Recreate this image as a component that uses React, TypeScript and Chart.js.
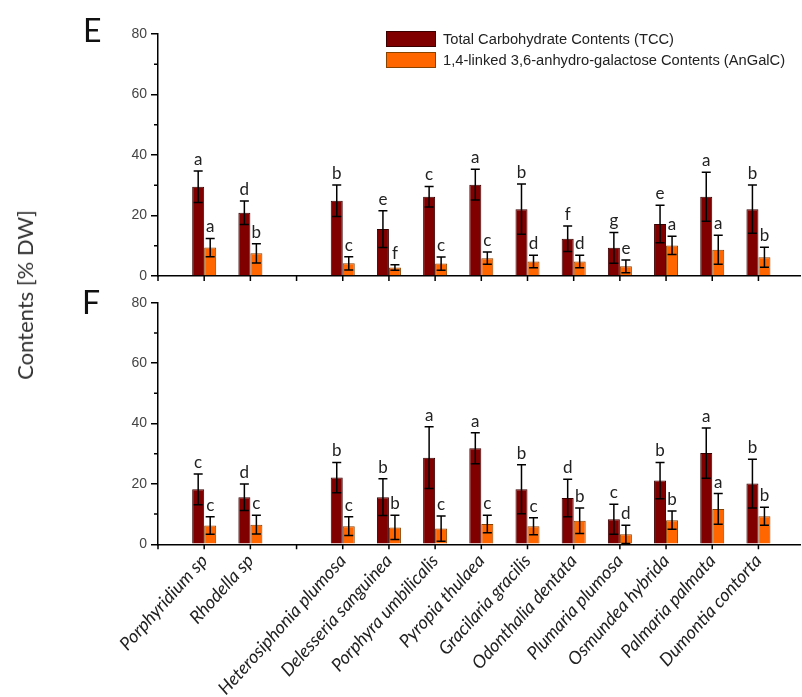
import React, { useEffect, useRef } from 'react';
import { Chart, registerables } from 'chart.js';

Chart.register(...registerables);

// ---------- data ----------
const categories = [
  'Porphyridium sp',
  'Rhodella sp',
  '',
  'Heterosiphonia plumosa',
  'Delesseria sanguinea',
  'Porphyra umbilicalis',
  'Pyropia thulaea',
  'Gracilaria gracilis',
  'Odonthalia dentata',
  'Plumaria plumosa',
  'Osmundea hybrida',
  'Palmaria palmata',
  'Dumontia contorta',
];

const seriesNames = [
  'Total Carbohydrate Contents (TCC)',
  '1,4-linked 3,6-anhydro-galactose Contents (AnGalC)',
];

// Panel E
const tccE = [29.5, 20.9, null, 24.9, 15.5, 26.2, 30.2, 22.1, 12.3, 9.3, 17.2, 26.2, 22.1];
const tccSdE = [5.2, 3.9, null, 5.2, 6.1, 3.4, 5.1, 8.3, 4.2, 5.1, 6.2, 8.1, 8.0];
const tccLettersE = ['a', 'd', '', 'b', 'e', 'c', 'a', 'b', 'f', 'g', 'e', 'a', 'b'];
const angE = [9.4, 7.5, null, 4.2, 2.8, 4.1, 5.9, 4.8, 4.8, 3.2, 10.1, 8.7, 6.2];
const angSdE = [3.0, 3.2, null, 2.2, 0.9, 2.2, 2.0, 2.1, 2.1, 2.1, 3.0, 4.8, 3.3];
const angLettersE = ['a', 'b', '', 'c', 'f', 'c', 'c', 'd', 'd', 'e', 'a', 'a', 'b'];

// Panel F
const tccF = [18.2, 15.6, null, 22.1, 15.6, 28.7, 31.8, 18.2, 15.3, 8.3, 21.1, 30.2, 20.1];
const tccSdF = [5.1, 4.4, null, 5.0, 6.1, 10.2, 5.1, 8.1, 6.2, 5.0, 6.0, 8.3, 8.1];
const tccLettersF = ['c', 'd', '', 'b', 'b', 'a', 'a', 'b', 'd', 'c', 'b', 'a', 'b'];
const angF = [6.2, 6.5, null, 6.0, 5.6, 5.2, 6.7, 6.0, 7.8, 3.3, 8.0, 11.7, 9.3];
const angSdF = [2.9, 3.1, null, 3.1, 4.0, 4.2, 2.9, 2.8, 4.2, 3.0, 3.0, 5.1, 3.0];
const angLettersF = ['c', 'c', '', 'c', 'b', 'c', 'c', 'c', 'b', 'd', 'b', 'a', 'b'];

const yMajorTicks = [0, 20, 40, 60, 80];
const yMinorTicks = [10, 30, 50, 70];

// ---------- styles ----------
const RED = '#800000';
const RED_EDGE = '#3a0000';
const ORANGE = '#ff6600';
const ORANGE_EDGE = '#8a4200';

type Panel = {
  letter: string;
  letterX: number;
  letterY: number;
  tcc: (number | null)[];
  tccSd: (number | null)[];
  tccLetters: string[];
  ang: (number | null)[];
  angSd: (number | null)[];
  angLetters: string[];
  padTop: number;
  xHeight: number;
  showLabels: boolean;
  legend: boolean;
};

function makeChart(canvas: HTMLCanvasElement, p: Panel) {
  const toPoints = (vals: (number | null)[]) => vals.map((v, i) => ({ x: i, y: v }));

  const annotate = {
    id: 'annotate',
    afterDatasetsDraw(chart: any) {
      const ctx = chart.ctx;
      const ys = chart.scales.y;
      chart.data.datasets.forEach((ds: any, di: number) => {
        const meta = chart.getDatasetMeta(di);
        meta.data.forEach((el: any, i: number) => {
          const v = ds.data[i].y;
          const sd = ds.sd[i];
          if (v == null || sd == null) return;
          const x = el.x;
          const yt = ys.getPixelForValue(v + sd);
          const yb = ys.getPixelForValue(v - sd);
          ctx.save();
          ctx.strokeStyle = '#000';
          ctx.lineWidth = 1.5;
          ctx.beginPath();
          ctx.moveTo(x, yt);
          ctx.lineTo(x, yb);
          ctx.moveTo(x - 4.5, yt);
          ctx.lineTo(x + 4.5, yt);
          ctx.moveTo(x - 4.5, yb);
          ctx.lineTo(x + 4.5, yb);
          ctx.stroke();
          ctx.fillStyle = '#222';
          ctx.font = '17px Lato';
          ctx.textAlign = 'center';
          ctx.textBaseline = 'alphabetic';
          ctx.fillText(ds.letters[i], x, yt - 6);
          ctx.restore();
        });
      });
    },
    afterDraw(chart: any) {
      const ctx = chart.ctx;
      const ys = chart.scales.y;
      const xs = chart.scales.x;
      const left = chart.chartArea.left;
      const bottom = chart.chartArea.bottom;
      ctx.save();
      ctx.strokeStyle = '#000';
      ctx.lineWidth = 1.5;
      ctx.beginPath();
      // minor y ticks
      yMinorTicks.forEach((v) => {
        const y = ys.getPixelForValue(v);
        ctx.moveTo(left - 4, y);
        ctx.lineTo(left, y);
      });
      // x tick marks
      xs.ticks.forEach((t: any) => {
        const x = xs.getPixelForValue(t.value);
        ctx.moveTo(x, bottom);
        ctx.lineTo(x, bottom + 5);
      });
      ctx.stroke();
      // panel letter
      ctx.fillStyle = '#111';
      ctx.font = '32px Lato';
      ctx.textAlign = 'left';
      ctx.textBaseline = 'alphabetic';
      ctx.fillText(p.letter, p.letterX, p.letterY);
      // legend
      if (p.legend) {
        const items = [
          { fill: RED, edge: RED_EDGE, text: seriesNames[0] },
          { fill: ORANGE, edge: ORANGE_EDGE, text: seriesNames[1] },
        ];
        items.forEach((it, k) => {
          const bx = 386;
          const by = 31 + k * 21;
          ctx.fillStyle = it.fill;
          ctx.fillRect(bx, by, 50, 16);
          ctx.strokeStyle = it.edge;
          ctx.lineWidth = 1;
          ctx.strokeRect(bx + 0.5, by + 0.5, 49, 15);
          ctx.fillStyle = '#222';
          ctx.font = '14.7px "Liberation Sans", Arial';
          ctx.textBaseline = 'middle';
          ctx.fillText(it.text, 443, by + 8.5);
        });
      }
      ctx.restore();
    },
  };

  return new Chart(canvas, {
    type: 'bar',
    data: {
      datasets: [
        {
          label: seriesNames[0],
          data: toPoints(p.tcc) as any,
          backgroundColor: RED,
          borderColor: RED_EDGE,
          borderWidth: 1,
          categoryPercentage: 0.52,
          barPercentage: 1,
          sd: p.tccSd,
          letters: p.tccLetters,
        } as any,
        {
          label: seriesNames[1],
          data: toPoints(p.ang) as any,
          backgroundColor: ORANGE,
          borderColor: ORANGE_EDGE,
          borderWidth: 1,
          categoryPercentage: 0.52,
          barPercentage: 1,
          sd: p.angSd,
          letters: p.angLetters,
        } as any,
      ],
    },
    options: {
      animation: false,
      responsive: false,
      maintainAspectRatio: false,
      layout: { padding: { left: 0, right: 2, top: p.padTop, bottom: 0 } },
      plugins: {
        legend: { display: false },
        tooltip: { enabled: false },
      },
      scales: {
        x: {
          type: 'linear',
          min: -1,
          max: 12.9,
          offset: false,
          afterFit(scale: any) {
            scale.height = p.xHeight;
          },
          border: { display: true, color: '#000', width: 1.5 },
          grid: {
            offset: false,
            drawOnChartArea: false,
            drawTicks: true,
            tickLength: 5,
            color: 'rgba(0,0,0,0)',
            tickColor: 'rgba(0,0,0,0)',
          },
          ticks: {
            stepSize: 1,
            includeBounds: false,
            autoSkip: false,
            maxRotation: 48,
            minRotation: 48,
            padding: 1,
            color: '#222',
            font: { family: 'Lato', size: 18, style: 'italic' },
            callback: (v: any) => (p.showLabels ? categories[v] ?? '' : ''),
          },
        },
        y: {
          min: 0,
          max: 80,
          afterFit(scale: any) {
            scale.width = 158;
          },
          afterBuildTicks(scale: any) {
            scale.ticks = yMajorTicks.map((v) => ({ value: v }));
          },
          border: { display: true, color: '#000', width: 1.5 },
          grid: {
            drawOnChartArea: false,
            drawTicks: true,
            tickLength: 7,
            color: '#000',
            lineWidth: 1.5,
          },
          ticks: {
            padding: 4,
            color: '#444',
            font: { family: '"Liberation Sans", Arial', size: 14 },
          },
        },
      },
    } as any,
    plugins: [annotate],
  });
}

export default function App() {
  const refE = useRef<HTMLCanvasElement>(null);
  const refF = useRef<HTMLCanvasElement>(null);

  useEffect(() => {
    const cE = makeChart(refE.current!, {
      letter: 'E',
      letterX: 83,
      letterY: 42,
      tcc: tccE,
      tccSd: tccSdE,
      tccLetters: tccLettersE,
      ang: angE,
      angSd: angSdE,
      angLetters: angLettersE,
      padTop: 34,
      xHeight: 14,
      showLabels: false,
      legend: true,
    });
    const cF = makeChart(refF.current!, {
      letter: 'F',
      letterX: 82,
      letterY: 24,
      tcc: tccF,
      tccSd: tccSdF,
      tccLetters: tccLettersF,
      ang: angF,
      angSd: angSdF,
      angLetters: angLettersF,
      padTop: 12.7,
      xHeight: 152.7,
      showLabels: true,
      legend: false,
    });
    return () => {
      cE.destroy();
      cF.destroy();
    };
  }, []);

  return (
    <div style={{ position: 'absolute', left: 0, top: 0, width: 802, height: 697, background: '#fff', overflow: 'hidden' }}>
      <canvas ref={refE} width={802} height={290} style={{ position: 'absolute', left: 0, top: 0, width: 802, height: 290 }} />
      <canvas ref={refF} width={802} height={407} style={{ position: 'absolute', left: 0, top: 290, width: 802, height: 407 }} />
      <div
        style={{
          position: 'absolute',
          left: 25,
          top: 295,
          transform: 'translate(-50%, -50%) rotate(-90deg)',
          fontFamily: 'Lato',
          fontSize: 22,
          color: '#333',
          whiteSpace: 'nowrap',
          lineHeight: 1,
        }}
      >
        Contents [% DW]
      </div>
    </div>
  );
}
